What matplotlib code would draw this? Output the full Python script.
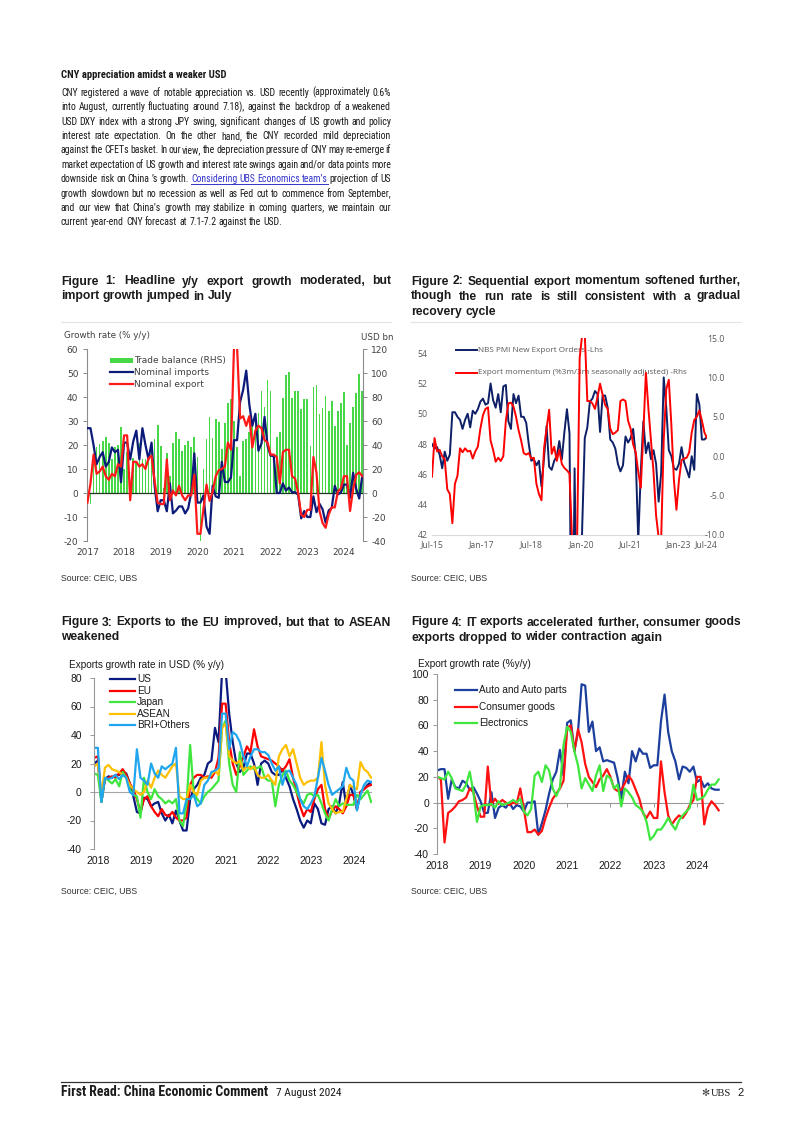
import matplotlib
matplotlib.use('Agg')
import matplotlib.pyplot as plt
from matplotlib import font_manager as fm
from matplotlib.font_manager import FontProperties
from matplotlib.lines import Line2D
from matplotlib.patches import Rectangle
import numpy as np

# ======================= DATA =======================
# Figure 1: monthly Jan-2017 .. Jul-2024
fig1_start_year = 2017
fig1_year_labels = ['2017', '2018', '2019', '2020', '2021', '2022', '2023', '2024']
fig1_exports = [
    -4, 4, 16, 8, 9, 11, 7, 5.5, 8, 7, 12, 11,
    24, 24, -3, 13, 13, 11, 12, 10, 14.5, 15.5, 5, -4,
    -4.6, -4.6, 14, -3, 1, -1, 3, -1, -3, -1, -1, 7.6,
    -17, -17, -6.6, 3.5, -3.3, 0.5, 7, 9.5, 10, 11, 21, 18,
    61, 61, 31, 32, 28, 32, 19, 26, 28, 27, 22, 21,
    16, 16, 15, 4, 17, 18, 18, 7, 6, 0, -9, -10,
    -7, -7, 15, 8.5, -7.5, -12.5, -14.5, -9, -6, -6, 0.5, 2,
    7, 7, -7.5, 1.5, 7.6, 8.6, 7]
fig1_imports = [
    27, 27, 20, 12, 15, 17, 11, 13, 19, 17, 18, 4.5,
    21, 21, 14, 21.5, 26, 14, 27, 20, 14, 21, 3, -7.6,
    -3, -3, -7.6, 4, -8.5, -7.3, -5.6, -5.6, -8.5, -6.4, 0.3, 16.5,
    -4, -4, -1, -14, -17, 3, -1.4, -2, 13, 4.7, 4.5, 6.5,
    22, 22, 38, 43, 51, 37, 28, 33, 17.6, 20.6, 31.7, 19.5,
    15.5, 15.5, 0, 0, 4, 1, 2.3, 0.3, 0.3, -0.7, -10.6, -7.5,
    -10, -10, -1.4, -8, -4.5, -6.8, -12.4, -7.3, -6.2, 3, -0.6, 0.2,
    3.5, 3.5, -2, 8.4, 1.8, -2.3, 7.2]
fig1_trade_balance = [
    51, -9, 24, 38, 41, 43, 47, 42, 28, 38, 40, 55,
    20, 34, -5, 29, 25, 42, 28, 28, 32, 34, 45, 57,
    39, 4, 33, 14, 42, 51, 45, 35, 40, 43, 38, 47,
    30, -40, 20, 45, 63, 46, 62, 59, 37, 58, 75, 78,
    60, 38, 14, 43, 45, 51, 56, 58, 67, 85, 72, 94,
    85, 31, 47, 51, 79, 98, 101, 79, 85, 85, 70, 78,
    78, 39, 88, 90, 66, 71, 81, 68, 77, 56, 68, 75,
    84, 40, 58, 72, 83, 99, 85]

# Figure 2: monthly Jul-2015 .. Jul-2024
fig2_tick_labels = ['Jul-15', 'Jan-17', 'Jul-18', 'Jan-20', 'Jul-21', 'Jan-23', 'Jul-24']
fig2_pmi_export_orders = [
    48.0, 47.7, 47.8, 47.3, 46.4, 47.5,
    46.9, 47.3, 50.1, 50.1, 49.8, 49.6, 49.0, 49.6, 50.0, 49.1, 50.2, 50.0,
    50.3, 50.8, 51.0, 50.6, 50.7, 52.0, 50.9, 50.4, 51.3, 50.1, 51.8, 51.9,
    49.5, 49.0, 51.3, 50.7, 51.2, 49.8, 49.8, 49.4, 48.0, 46.9, 47.0, 46.6,
    46.9, 45.2, 47.1, 49.2, 46.5, 46.3, 46.9, 47.2, 48.2, 47.0, 48.8, 50.3,
    48.7, 28.7, 46.4, 33.5, 35.3, 42.6, 48.4, 49.1, 50.8, 51.0, 51.5, 51.3,
    48.8, 51.2, 51.2, 50.4, 48.3, 48.1, 47.7, 46.7, 46.2, 46.6, 48.5, 48.1,
    48.4, 49.0, 47.2, 41.6, 46.2, 49.5, 47.4, 48.1, 47.0, 47.6, 46.7, 44.2,
    46.1, 52.4, 50.4, 47.6, 47.2, 46.4, 46.3, 46.7, 47.8, 46.8, 46.3, 45.8,
    47.2, 46.3, 51.3, 50.6, 48.3, 48.3, 48.5]
fig2_export_momentum = [
    -2.6, 2.3, 0.6, 0.8, 0.0, -0.4,
    -4.2, -4.8, -8.5, -3.5, -2.5, 1.0, 0.5, 1.0, 0.6, 0.7, -0.3, 0.6,
    1.2, 3.5, 5.2, 6.0, 6.2, 2.0, 0.8, -0.7, -0.2, -0.6, 0.0, 4.5,
    6.7, 6.8, 6.3, 5.0, 3.3, 2.0, 0.4, 0.2, 0.4, -0.3, -0.2, -3.5,
    -4.8, -5.6, 1.0, 3.5, 5.9, 0.3, 1.2, -0.6, 0.8, -1.0, -1.5, -1.8,
    -2.2, -10.5, -10.5, -10.5, 12.5, 15.5, 15.5, 7.0, 7.0, 6.7, 6.0, 7.5,
    9.2, 7.8, 6.5, 6.0, 3.5, 2.8, 3.0, 3.3, 7.0, 7.2, 7.0, 4.5,
    3.5, 1.5, 0.5, -2.0, -4.0, 3.0, 10.6, 6.0, 2.0, -2.0, -7.5, -10.3,
    -10.5, 2.0, 8.5, 9.7, 4.0, -3.0, -6.8, -3.0, -0.5, -0.3, -0.2, 0.5,
    3.0, 4.6, 5.0, 5.8, 4.5, 3.0, 2.3]

# Figure 3: monthly Jan-2018 .. Jul-2024
fig3_year_labels = ['2018', '2019', '2020', '2021', '2022', '2023', '2024']
fig3_us = [
    20, 22, -7, 9, 11, 10, 12, 12, 14, 13, 6, -3,
    -14, -15, -4, -5, -10, -8, -7, -15, -20, -16, -22, -13,
    -20, -27, -27, -5, 2, 5, 10, 12, 20, 22, 45, 35,
    85, 85, 55, 35, 20, 14, 17, 27, 27, 20, 5, 20,
    22, 20, 14, 12, 12, 16, 10, 4, -5, -12, -20, -25,
    -20, -22, -8, -12, -22, -23, -12, -10, -15, -8, 7, -10,
    5, -2, -12, 0, 2, 5, 7]
fig3_eu = [
    24, 25, -5, 9, 10, 11, 10, 13, 16, 12, 6, 2,
    -5, -14, -5, -3, -10, -14, -17, -12, -16, -17, -14, -18,
    -20, -20, -18, 5, 10, 12, 12, 10, 11, 10, 14, 24,
    62, 62, 35, 20, 12, 18, 25, 32, 28, 44, 32, 25,
    24, 23, 22, 20, 18, 15, 18, 23, 10, 0, -10, -17,
    -12, -14, -5, 2, 5, -12, -19, -13, -10, -12, -15, -10,
    -2, -2, -12, 0, 2, 4, 5]
fig3_japan = [
    13, 12, -7, 10, 8, 6, 9, 4, 14, 10, 2, -2,
    -3, -18, 10, 0, -5, 2, -3, -5, -8, -6, -8, -5,
    -20, -24, -8, 33, 0, -5, -8, -3, 0, 2, 5, 8,
    45, 50, 20, 5, 0, 28, 12, 15, 18, 16, 17, 18,
    10, 8, 8, -10, 5, 12, 15, 8, 5, 0, -5, -8,
    -2, -1, -3, -2, -8, -15, -20, -12, -5, -10, -8, -9,
    -9, -9, -2, -5, -2, 1, -7]
fig3_asean = [
    18, 20, -2, 17, 19, 16, 15, 14, 12, 10, 5, 2,
    0, -2, 0, 8, 3, 10, 15, 12, 10, 14, 18, 20,
    -3, -5, -5, 5, 0, -2, 8, 10, 10, 12, 15, 12,
    45, 48, 25, 22, 20, 22, 15, 18, 16, 18, 12, 10,
    10, 12, 8, 5, 25, 30, 33, 25, 30, 20, 10, 5,
    7, 8, 8, 10, 35, 5, -8, -12, -15, -14, -14, -5,
    5, 3, 2, 21, 16, 14, 10]
fig3_bri = [
    31, 31, -7, 10, 9, 10, 12, 9, 12, 10, 0, -2,
    30, 10, 8, 5, 20, 13, 10, 18, 16, 18, 20, 31,
    -15, -15, -5, -5, -2, -10, -8, 5, 8, 14, 15, 17,
    55, 55, 30, 42, 40, 35, 25, 18, 25, 30, 30, 28,
    28, 26, 20, 15, 18, 5, 14, 15, 10, 5, -5, -10,
    -12, -8, -3, 10, 24, 15, 5, -2, 0, 2, 4, 17,
    10, 8, -13, -2, 5, 8, 7]

# Figure 4: monthly Jan-2018 .. Jul-2024
fig4_auto = [
    25, 26, 26, 3, 18, 12, 11, 17, 15, 10, 12, 7,
    1, -8, -8, 8, -12, -4, -2, -4, 0, -5, -2, -3,
    -7, 0, 0, 1, -25, -16, -6, 7, 18, 24, 41, 21,
    62, 64, 40, 55, 92, 91, 55, 63, 40, 43, 32, 33,
    32, 31, 19, 3, 24, 15, 40, 32, 42, 38, 38, 27,
    29, 29, 63, 84, 55, 40, 32, 18, 28, 27, 24, 28,
    16, 18, 12, 15, 11, 10, 10]
fig4_consumer = [
    20, 18, -31, -8, -6, -3, 1, 2, 4, 11, 8, -3,
    -11, -11, 28, -2, 3, -1, 2, 0, -2, 0, -1, 11,
    -5, -23, -23, -21, -25, -22, -12, -4, 3, 7, 11, 17,
    58, 60, 40, 57, 47, 30, 20, 16, 12, 18, 21, 26,
    20, 11, 9, 10, 15, 21, 17, 10, 3, -8, -12, -7,
    -12, -12, 32, 8, -10, -17, -13, -10, -12, -8, -2, 2,
    20, 20, -17, -4, 1, -2, -6]
fig4_electronics = [
    20, 19, 18, 24, 19, 11, 10, 9, 14, 24, 8, -15,
    -3, -2, -2, -1, -4, 1, -2, -1, 0, 2, 0, 3,
    -7, -10, -5, 21, 24, 16, 29, 25, 11, 5, 12, 45,
    59, 55, 40, 29, 11, 19, 14, 9, 21, 29, 9, 21,
    19, 11, 14, -3, 11, 8, 4, -2, -4, -7, -15, -29,
    -26, -21, -21, -17, -12, -17, -21, -14, -10, -7, -4, 14,
    2, 3, 5, 10, 14, 14, 18]

# ======================= PAGE SETUP =======================
W, H = 802, 1134
fig = plt.figure(figsize=(W / 100, H / 100), dpi=100)
fig.patch.set_facecolor('white')
R = fig.canvas.get_renderer()

SANS = 'Liberation Sans'
TXT = '#1a1a1a'
LINK = '#3333cc'


def fx(x):
    return x / W


def fy(y):
    return 1 - y / H


def add_ax(l, t, r, b):
    return fig.add_axes([l / W, 1 - b / H, (r - l) / W, (b - t) / H])


def fp_of(spec, size):
    if 'fname' in spec:
        return FontProperties(fname=spec['fname'], size=size)
    return FontProperties(family=spec['family'], weight=spec.get('weight', 'normal'), size=size)


def measure(s, spec, size):
    t = fig.text(0, 0, s, fontproperties=fp_of(spec, size))
    w = t.get_window_extent(renderer=R).width
    t.remove()
    return w


def space_width(spec, size):
    return measure('x x', spec, size) - measure('xx', spec, size)


def fit_size(lines, width, spec, space_frac=1.0):
    sp = space_width(spec, 10.0)
    best = None
    for l in lines:
        words = l.split(' ')
        wsum = sum(measure(w, spec, 10.0) for w in words)
        tot = wsum + (len(words) - 1) * sp * space_frac
        s = 10.0 * width / tot
        best = s if best is None else min(best, s)
    return best


# ---------- choose the narrowest suitable sans font available ----------
PREFIX = ('Liberation Sans', 'DejaVu Sans', 'Noto Sans', 'Roboto', 'Open Sans', 'Lato', 'Inter')


def wnum(w):
    if isinstance(w, (int, float)):
        return int(w)
    return {'normal': 400, 'regular': 400, 'book': 400, 'bold': 700,
            'medium': 500, 'light': 300}.get(str(w).lower(), 400)


def candidates(bold):
    out = {}
    for f in fm.fontManager.ttflist:
        nm = f.name
        pre = [p for p in PREFIX if nm.startswith(p)]
        if not pre:
            continue
        rest = nm[len(pre[0]):].strip()
        if rest and not any(k in rest for k in ('Condensed', 'Narrow')):
            continue
        if f.style != 'normal':
            continue
        w = wnum(f.weight)
        if bold and not (600 <= w <= 800):
            continue
        if not bold and w != 400:
            continue
        out[f.fname] = f
    return list(out.values())


body = [
    "CNY registered a wave of notable appreciation vs. USD recently (approximately 0.6%",
    "into August, currently fluctuating around 7.18), against the backdrop of a weakened",
    "USD DXY index with a strong JPY swing, significant changes of US growth and policy",
    "interest rate expectation. On the other hand, the CNY recorded mild depreciation",
    "against the CFETs basket. In our view, the depreciation pressure of CNY may re-emerge if",
    "market expectation of US growth and interest rate swings again and/or data points more",
    "downside risk on China \u2019s growth. Considering UBS Economics team\u2019s projection of US",
    "growth slowdown but no recession as well as Fed cut to commence from September,",
    "and our view that China\u2019s growth may stabilize in coming quarters, we maintain our",
    "current year-end CNY forecast at 7.1-7.2 against the USD.",
]

REG = {'family': SANS}
BOLD = {'family': SANS, 'weight': 'bold'}
best = None
for f in candidates(False):
    spec = {'fname': f.fname}
    try:
        s = fit_size(body[:-1], 329, spec, 0.6)
    except Exception:
        continue
    score = abs(s - 8.2)
    if best is None or score < best[0]:
        best = (score, f, spec)
if best is not None:
    REG = best[2]
    bf = best[1]
    bold_match = [g for g in candidates(True) if g.name == bf.name and str(g.stretch) == str(bf.stretch)]
    if bold_match:
        BOLD = {'fname': bold_match[0].fname}
    else:
        BOLD = {'family': bf.name, 'weight': 'bold'}


def draw_line(line, x0, x1, y, size, spec, color=TXT, justify=True, link_idx=()):
    words = line.split(' ')
    arts = []
    for j, w in enumerate(words):
        c = LINK if j in link_idx else color
        arts.append(fig.text(fx(x0), fy(y), w, fontproperties=fp_of(spec, size),
                             color=c, va='baseline', ha='left'))
    ws = [a.get_window_extent(renderer=R).width for a in arts]
    if justify and len(words) > 1:
        gap = (x1 - x0 - sum(ws)) / (len(words) - 1)
    else:
        gap = space_width(spec, size)
    x = x0
    lx = []
    for j, (a, w) in enumerate(zip(arts, ws)):
        a.set_x(fx(x))
        if j in link_idx:
            lx.append((x, x + w))
        x += w + gap
    if lx:
        fig.add_artist(Line2D([fx(lx[0][0]), fx(lx[-1][1])], [fy(y + 1.8)] * 2,
                              transform=fig.transFigure, color=LINK, lw=0.7))


# ----------------------- Title & body -----------------------
title = 'CNY appreciation amidst a weaker USD'
tsize = min(fit_size([title], 166, BOLD), 10.0)
fig.text(fx(61), fy(78), title, fontproperties=fp_of(BOLD, tsize), color=TXT, va='baseline')

bsize = fit_size(body[:-1], 329, REG, 0.6)
for i, line in enumerate(body):
    links = (6, 7, 8, 9) if i == 6 else ()
    draw_line(line, 61, 391, 95.8 + 14.4 * i, bsize, REG,
              justify=(i < len(body) - 1), link_idx=links)

# ----------------------- Captions -----------------------
CAPB = {'family': SANS, 'weight': 'bold'}
cap1 = ["Figure 1: Headline y/y export growth moderated, but", "import growth jumped in July"]
cap2 = ["Figure 2: Sequential export momentum softened further,",
        "though the run rate is still consistent with a gradual", "recovery cycle"]
cap3 = ["Figure 3: Exports to the EU improved, but that to ASEAN", "weakened"]
cap4 = ["Figure 4: IT exports accelerated further, consumer goods",
        "exports dropped to wider contraction again"]
csize = fit_size([cap1[0], cap2[0], cap2[1], cap3[0], cap4[0]], 329, CAPB)
for cap, x0, y0 in ((cap1, 61, 284.5), (cap2, 411, 284.5), (cap3, 61, 625.5), (cap4, 411, 625.5)):
    for i, line in enumerate(cap):
        draw_line(line, x0, x0 + 330, y0 + 15 * i, csize, CAPB,
                  justify=(i < len(cap) - 1))

for x0, x1 in ((61, 391), (411, 741)):
    fig.add_artist(Line2D([fx(x0), fx(x1)], [fy(321.5)] * 2, transform=fig.transFigure,
                          color='#e3e3e3', lw=0.8))

for x0, y0 in ((61, 578), (411, 578), (61, 891), (411, 891)):
    fig.text(fx(x0), fy(y0), 'Source: CEIC, UBS', fontsize=6.3, family=SANS,
             color='#333333', va='center')

# ----------------------- Figure 1 -----------------------
GREY1 = '#404040'
AX1 = '#8c8c8c'
x1 = fig1_start_year + np.arange(len(fig1_exports)) / 12.0
ax_bal = add_ax(86.7, 349, 363, 541)
ax_gr = ax_bal.twinx()
ax_bal.bar(x1, fig1_trade_balance, width=0.55 / 12, color='#46d846', linewidth=0)
ax_bal.set_ylim(-40, 120)
ax_bal.set_yticks(np.arange(-40, 121, 20), labels=[str(v) for v in range(-40, 121, 20)],
                  fontfamily='DejaVu Sans')
ax_bal.yaxis.tick_right()
ax_gr.yaxis.tick_left()
ax_gr.set_ylim(-20, 60)
ax_gr.set_yticks(np.arange(-20, 61, 10), labels=[str(v) for v in range(-20, 61, 10)],
                 fontfamily='DejaVu Sans')
ax_gr.axhline(0, color='#223322', lw=0.9, zorder=1)
ax_gr.plot(x1, fig1_imports, color='#0c1a7a', lw=1.6, zorder=3)
ax_gr.plot(x1, fig1_exports, color='#ff1a1a', lw=1.6, zorder=4)
ax_bal.set_xlim(2016.98, 2024.52)
ax_bal.set_xticks(np.arange(2017, 2025), labels=fig1_year_labels, fontfamily='DejaVu Sans')
for a in (ax_bal, ax_gr):
    for sp in a.spines.values():
        sp.set_visible(False)
ax_bal.spines['right'].set_visible(True)
ax_bal.spines['right'].set_color(AX1)
ax_bal.spines['right'].set_linewidth(0.8)
ax_gr.spines['left'].set_visible(True)
ax_gr.spines['left'].set_color(AX1)
ax_gr.spines['left'].set_linewidth(0.8)
ax_bal.tick_params(axis='y', direction='out', length=3, width=0.7, color=AX1,
                   labelsize=6.5, labelcolor=GREY1, pad=3)
ax_gr.tick_params(axis='y', direction='out', length=3, width=0.7, color=AX1,
                  labelsize=6.5, labelcolor=GREY1, pad=3)
ax_bal.tick_params(axis='x', length=0, labelsize=6.5, labelcolor=GREY1, pad=5)
fig.text(fx(64), fy(335), 'Growth rate (% y/y)', fontsize=6.3, color=GREY1, va='center',
         family='DejaVu Sans')
fig.text(fx(361), fy(337), 'USD bn', fontsize=6.3, color=GREY1, va='center',
         family='DejaVu Sans')
fig.add_artist(Rectangle((fx(110), fy(362.5)), (133 - 110) / W, 5 / H,
                         transform=fig.transFigure, color='#46d846', lw=0))
fig.add_artist(Line2D([fx(110), fx(133)], [fy(372.3)] * 2, transform=fig.transFigure,
                      color='#0c1a7a', lw=1.6))
fig.add_artist(Line2D([fx(110), fx(133)], [fy(384.3)] * 2, transform=fig.transFigure,
                      color='#ff1a1a', lw=1.6))
for lab, yy in (('Trade balance (RHS)', 360), ('Nominal imports', 372.3), ('Nominal export', 384.3)):
    fig.text(fx(134), fy(yy), lab, fontsize=6.5, color=GREY1, va='center', family='DejaVu Sans')

# ----------------------- Figure 2 -----------------------
GREY2 = '#595959'
m2 = np.arange(len(fig2_pmi_export_orders))
ax2 = add_ax(432, 338, 707, 535)
ax2b = ax2.twinx()
ax2.patch.set_visible(False)
ax2.plot(m2, fig2_pmi_export_orders, color='#0d1f66', lw=1.4, zorder=3)
ax2b.plot(m2, fig2_export_momentum, color='#ff0000', lw=1.4)
ax2.set_xlim(0, 108)
ax2.set_ylim(42, 55)
ax2b.set_ylim(-10, 15)
ax2.set_yticks(np.arange(42, 55, 2), labels=[str(v) for v in range(42, 55, 2)],
               fontfamily='Open Sans')
ax2b.set_yticks(np.arange(-10, 16, 5), labels=['%.1f' % v for v in range(-10, 16, 5)],
                fontfamily='Open Sans', ha='right')
ax2.set_xticks([0, 19.4, 38.8, 58.5, 77.6, 96.6, 107.7], labels=fig2_tick_labels,
               fontfamily='Open Sans')
for a in (ax2, ax2b):
    for sp in a.spines.values():
        sp.set_visible(False)
ax2.spines['bottom'].set_visible(True)
ax2.spines['bottom'].set_color('#d9d9d9')
ax2.tick_params(axis='y', length=0, labelsize=6.3, labelcolor=GREY2, pad=3)
ax2b.tick_params(axis='y', length=0, labelsize=6.3, labelcolor=GREY2, pad=13)
ax2.tick_params(axis='x', length=0, labelsize=6.3, labelcolor=GREY2, pad=4)
fig.add_artist(Line2D([fx(456), fx(477)], [fy(350)] * 2, transform=fig.transFigure,
                      color='#0d1f66', lw=1.4))
fig.add_artist(Line2D([fx(456), fx(477)], [fy(372.7)] * 2, transform=fig.transFigure,
                      color='#ff0000', lw=1.4))
ax2.text(fx(478), fy(350), 'NBS PMI New Export Orders -Lhs', transform=fig.transFigure,
         fontsize=5.9, color=GREY2, va='center', family='Open Sans', zorder=1)
ax2.text(fx(478), fy(372.7), 'Export momentum (%3m/3m seasonally adjusted) -Rhs',
         transform=fig.transFigure, fontsize=5.9, color=GREY2, va='center',
         family='Open Sans', zorder=1)

# ----------------------- Figure 3 -----------------------
AX3 = '#999999'
x3 = 2018 + np.arange(len(fig3_us)) / 12.0
ax3 = add_ax(94.3, 678, 372, 849)
ax3.axhline(0, color='#a6a6a6', lw=0.8, zorder=1)
fig3_series = [('US', fig3_us, '#0a1a80'), ('EU', fig3_eu, '#ff0000'),
               ('Japan', fig3_japan, '#3ee63e'), ('ASEAN', fig3_asean, '#ffc000'),
               ('BRI+Others', fig3_bri, '#1fa6ee')]
for lab, s, c in fig3_series:
    ax3.plot(x3, s, color=c, lw=1.6, zorder=2)
ax3.set_xlim(2018, 2024.52)
ax3.set_ylim(-40, 80)
ax3.set_yticks(np.arange(-40, 81, 20), labels=[str(v) for v in range(-40, 81, 20)],
               fontfamily=SANS)
ax3.set_xticks(np.arange(2018, 2025) + 0.09, labels=fig3_year_labels, fontfamily=SANS)
for sp in ax3.spines.values():
    sp.set_visible(False)
ax3.spines['left'].set_visible(True)
ax3.spines['left'].set_color(AX3)
ax3.spines['left'].set_linewidth(0.8)
ax3.tick_params(axis='y', direction='out', length=3, width=0.7, color=AX3,
                labelsize=7.5, labelcolor=TXT, pad=6)
ax3.tick_params(axis='x', length=0, labelsize=7.5, labelcolor=TXT, pad=5)
fig.text(fx(69), fy(665), 'Exports growth rate in USD (% y/y)', fontsize=7.2, color=TXT,
         va='center', family=SANS)
for k, (lab, s, c) in enumerate(fig3_series):
    yy = 679 + 11.6 * k
    fig.add_artist(Line2D([fx(110), fx(135)], [fy(yy)] * 2, transform=fig.transFigure,
                          color=c, lw=1.6))
    fig.text(fx(137), fy(yy), lab, fontsize=7.2, color=TXT, va='center', family=SANS)

# ----------------------- Figure 4 -----------------------
x4 = 2018 + np.arange(len(fig4_auto)) / 12.0
ax4 = add_ax(437.3, 674, 723, 854)
fig4_series = [('Auto and Auto parts', fig4_auto, '#1c3f9e'),
               ('Consumer goods', fig4_consumer, '#ff1111'),
               ('Electronics', fig4_electronics, '#3ee63e')]
for lab, s, c in fig4_series:
    ax4.plot(x4, s, color=c, lw=1.6, zorder=2)
ax4.set_xlim(2018, 2024.6)
ax4.set_ylim(-40, 100)
ax4.set_yticks(np.arange(-40, 101, 20), labels=[str(v) for v in range(-40, 101, 20)],
               fontfamily=SANS)
ax4.set_xticks(np.arange(2018, 2025), labels=fig3_year_labels, fontfamily=SANS)
for sp in ax4.spines.values():
    sp.set_visible(False)
ax4.spines['left'].set_visible(True)
ax4.spines['left'].set_color(AX3)
ax4.spines['left'].set_linewidth(0.8)
ax4.tick_params(axis='y', direction='out', length=3, width=0.7, color=AX3,
                labelsize=7.5, labelcolor=TXT, pad=3)
ax4.tick_params(axis='x', length=0, labelsize=7.5, labelcolor=TXT, pad=5)
sec = ax4.secondary_xaxis(40 / 140)
sec.set_xticks(np.arange(2018, 2025))
sec.set_xticklabels([])
sec.tick_params(axis='x', direction='out', length=3, width=0.7, color=AX3)
for sp in sec.spines.values():
    sp.set_color(AX3)
    sp.set_linewidth(0.8)
fig.text(fx(418.5), fy(664), 'Export growth rate (%y/y)', fontsize=7.2, color=TXT,
         va='center', family=SANS)
for k, (lab, s, c) in enumerate(fig4_series):
    yy = 690 + 16.6 * k
    fig.add_artist(Line2D([fx(455), fx(477)], [fy(yy)] * 2, transform=fig.transFigure,
                          color=c, lw=1.6))
    fig.text(fx(479), fy(yy), lab, fontsize=7.2, color=TXT, va='center', family=SANS)

# ----------------------- Footer -----------------------
fig.add_artist(Line2D([fx(61), fx(741)], [fy(1082)] * 2, transform=fig.transFigure,
                      color='#333333', lw=0.9))
f1 = 'First Read: China Economic Comment'
f2 = '7 August 2024'
fsize = min(fit_size([f1], 206, BOLD), 10.5)
dsize = min(fit_size([f2], 65, REG), fsize)
fig.text(fx(61), fy(1096.5), f1, fontproperties=fp_of(BOLD, fsize), color=TXT,
         va='baseline')
fig.text(fx(276), fy(1096.5), f2, fontproperties=fp_of(REG, dsize), color=TXT,
         va='baseline')
fig.text(fx(701), fy(1096.5), '\u273b', fontsize=7, family='DejaVu Sans', color='#333333',
         va='baseline')
fig.text(fx(731), fy(1096.5), 'UBS', fontsize=7.5, family='Liberation Serif', color=TXT,
         va='baseline', ha='right')
fig.text(fx(737), fy(1096.5), '2', fontsize=8, family=SANS, color=TXT, va='baseline',
         ha='left')

fig.savefig('out.png', dpi=100)
